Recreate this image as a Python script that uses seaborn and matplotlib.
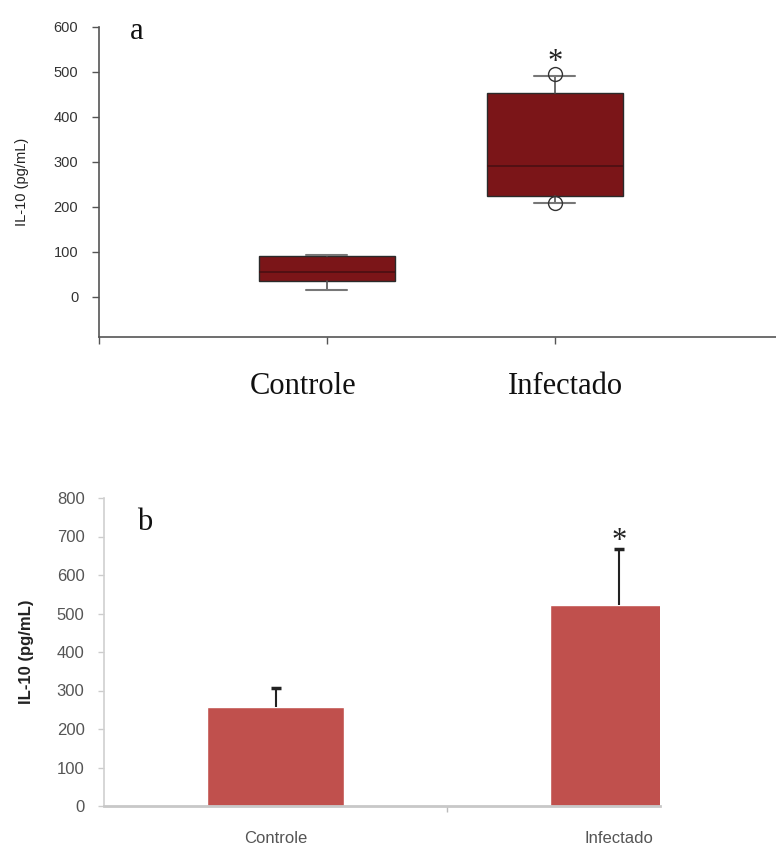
import matplotlib
matplotlib.use("Agg")
import matplotlib.pyplot as plt
import matplotlib.transforms as mtransforms
import seaborn as sns
import pandas as pd

# ---------------- data ----------------
categories = ["Controle", "Infectado"]

# panel a: box statistics (pg/mL)
box_whislo = [14, 208]
box_q1 = [35, 223]
box_med = [55, 291]
box_q3 = [91, 453]
box_whishi = [93, 490]
box_fliers = [[], [208, 496]]

# panel b: mean +/- error (pg/mL)
bar_means = [257, 523]
bar_errors = [49, 144]

a_yticks = [0, 100, 200, 300, 400, 500, 600]
b_yticks = [0, 100, 200, 300, 400, 500, 600, 700, 800]

# ---------------- figure ----------------
sns.set_theme(style="white")
plt.rcParams["font.family"] = ["Liberation Sans", "DejaVu Sans"]

fig = plt.figure(figsize=(7.76, 8.49), dpi=100)
W, H = 776, 849

def axes_px(left, top, right, bottom):
    return fig.add_axes([left / W, 1 - bottom / H, (right - left) / W, (bottom - top) / H])

serif = ["Liberation Serif", "DejaVu Serif"]

# ---------- panel a ----------
axa = axes_px(99, 27, 776, 337)
stats = []
for i, c in enumerate(categories):
    stats.append(dict(label=c, whislo=box_whislo[i], q1=box_q1[i], med=box_med[i],
                      q3=box_q3[i], whishi=box_whishi[i], fliers=box_fliers[i]))
axa.bxp(stats, positions=[0, 1], widths=0.6, patch_artist=True, showfliers=True,
        boxprops=dict(facecolor="#7b1518", edgecolor="#2a2a2a", linewidth=1.0),
        medianprops=dict(color="#4a1012", linewidth=1.2),
        whiskerprops=dict(color="#555555", linewidth=1.2),
        capprops=dict(color="#777777", linewidth=1.5),
        capwidths=0.18,
        flierprops=dict(marker="o", markerfacecolor="none", markeredgecolor="#333333",
                        markersize=10, linestyle="none"))
axa.set_ylim(-90, 600)
axa.set_xlim(-1, 1.97)
axa.set_yticks(a_yticks)
axa.set_yticklabels([str(v) for v in a_yticks], fontsize=10.5, color="#333333")
axa.set_xticks([-1, 0, 1])
axa.set_xticklabels(["", "", ""])
axa.tick_params(axis="both", direction="out", length=5, width=1, color="#555555",
                left=True, bottom=True)
axa.tick_params(axis="y", pad=10)
for s in ["top", "right"]:
    axa.spines[s].set_visible(False)
for s in ["left", "bottom"]:
    axa.spines[s].set_color("#555555")
    axa.spines[s].set_linewidth(1.2)
axa.set_ylabel("IL-10 (pg/mL)", fontsize=10.5, color="#222222", labelpad=18)
trans_a = mtransforms.blended_transform_factory(axa.transData, fig.transFigure)
for x, c in zip([-0.105, 1.048], categories):
    axa.text(x, 1 - 387 / H, c, transform=trans_a, ha="center", va="center",
             fontsize=22, family=serif, color="#111111")
axa.text(0.045, 0.985, "a", transform=axa.transAxes, ha="left", va="center",
         fontsize=22, family=serif, color="#111111")
axa.text(1, 488, "*", ha="center", va="bottom", fontsize=22, family=serif,
         color="#222222")

# ---------- panel b ----------
axb = axes_px(104, 498, 660, 806)
dfb = pd.DataFrame({"grupo": categories, "IL10": bar_means})
sns.barplot(data=dfb, x="grupo", y="IL10", order=categories, color="#c0504d",
            saturation=1, width=0.4, errorbar=None, ax=axb, zorder=2)
eb = axb.errorbar([0, 1], bar_means, yerr=[[0, 0], bar_errors], fmt="none",
                  ecolor="#222222", elinewidth=1.5, capsize=3.5, capthick=2.5, zorder=3)
eb[1][0].set_visible(False)  # hide lower caps (one-sided bars)
axb.set_ylim(0, 800)
axb.set_xlim(-0.5, 1.12)
axb.set_yticks(b_yticks)
axb.set_yticklabels([str(v) for v in b_yticks], fontsize=12, color="#555555")
axb.set_xticks([0, 1])
axb.set_xticklabels(categories, fontsize=12, color="#555555")
axb.set_xticks([0.5], minor=True)
axb.tick_params(axis="x", which="major", length=0, pad=18)
axb.tick_params(axis="x", which="minor", direction="out", length=4, width=1,
                color="#bbbbbb", bottom=True)
axb.tick_params(axis="y", direction="out", length=4, width=1, color="#cccccc",
                left=True, pad=10)
for s in ["top", "right"]:
    axb.spines[s].set_visible(False)
axb.spines["left"].set_color("#d0d0d0")
axb.spines["left"].set_linewidth(1.2)
axb.spines["bottom"].set_color("#c8c8c8")
axb.spines["bottom"].set_linewidth(2.0)
axb.set_xlabel("")
axb.set_ylabel("IL-10 (pg/mL)", fontsize=12, fontweight="bold", color="#222222",
               labelpad=16)
axb.text(0.06, 0.92, "b", transform=axb.transAxes, ha="left", va="center",
         fontsize=22, family=serif, color="#111111")
axb.text(1, 650, "*", ha="center", va="bottom", fontsize=22, family=serif,
         color="#222222")

fig.savefig("out.png", dpi=100)
